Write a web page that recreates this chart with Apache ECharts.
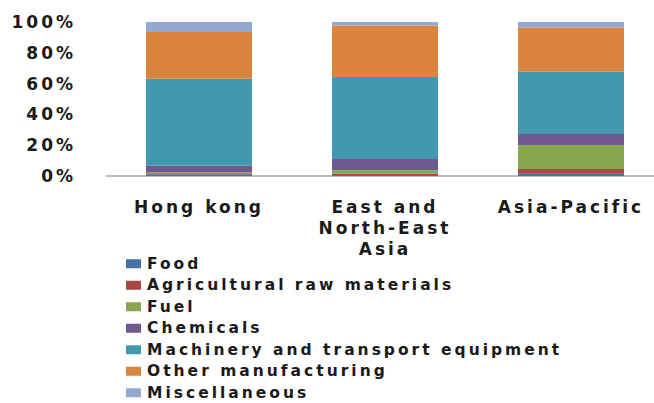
<!DOCTYPE html>
<html>
<head>
<meta charset="utf-8">
<script src="https://cdn.jsdelivr.net/npm/echarts@6/dist/echarts.min.js"></script>
<style>
html,body{margin:0;padding:0;background:#fff;}
#c{width:654px;height:403px;}
svg text{letter-spacing:3px;}
</style>
</head>
<body>
<div id="c"></div>
<script>
const categories = ['Hong kong', 'East and\nNorth-East\nAsia', 'Asia-Pacific'];
const seriesNames = ['Food', 'Agricultural raw materials', 'Fuel', 'Chemicals', 'Machinery and transport equipment', 'Other manufacturing', 'Miscellaneous'];
const food = [1.2, 0.6, 1.5];
const agri = [0.6, 0.9, 3.0];
const fuel = [0.7, 2.2, 15.6];
const chemicals = [4.2, 7.3, 7.2];
const machinery = [56.5, 53.3, 40.4];
const otherManuf = [30.3, 33.5, 28.8];
const misc = [6.5, 2.2, 3.5];
const yTicks = [0, 20, 40, 60, 80, 100];

const colors = ['#4572A7', '#AA4643', '#89A54E', '#71588F', '#4198AF', '#DB843D', '#93A9CF'];
const values = [food, agri, fuel, chemicals, machinery, otherManuf, misc];

const chart = echarts.init(document.getElementById('c'), null, {renderer: 'svg'});
const fontFamily = '"DejaVu Sans", sans-serif';
chart.setOption({
  animation: false,
  color: colors,
  grid: {left: 106, top: 22, width: 558, height: 154, containLabel: false, outerBoundsMode: 'none'},
  legend: {
    orient: 'vertical',
    left: 126,
    top: 253,
    height: 170,
    padding: 0,
    itemWidth: 15,
    itemHeight: 9,
    itemGap: 0,
    icon: 'rect',
    selectedMode: false,
    data: seriesNames,
    textStyle: {fontFamily: fontFamily, fontSize: 15.5, fontWeight: 'bold', color: '#1a1a1a', lineHeight: 21.5, padding: [0, 0, 0, 1]}
  },
  xAxis: {
    type: 'category',
    data: categories,
    axisLine: {lineStyle: {color: '#a6a6a6', width: 1.5}},
    axisTick: {show: false},
    axisLabel: {fontFamily: fontFamily, fontSize: 17, fontWeight: 'bold', color: '#1a1a1a', lineHeight: 21, margin: 20, interval: 0}
  },
  yAxis: {
    type: 'value',
    min: yTicks[0],
    max: yTicks[yTicks.length - 1],
    interval: 20,
    splitLine: {show: false},
    axisLine: {show: false},
    axisTick: {show: false},
    axisLabel: {formatter: '{value}%', fontFamily: fontFamily, fontSize: 17, fontWeight: 'bold', color: '#1a1a1a', margin: 30}
  },
  series: seriesNames.map((n, i) => ({
    name: n,
    type: 'bar',
    stack: 'total',
    barWidth: 106,
    data: values[i]
  }))
});
</script>
</body>
</html>
